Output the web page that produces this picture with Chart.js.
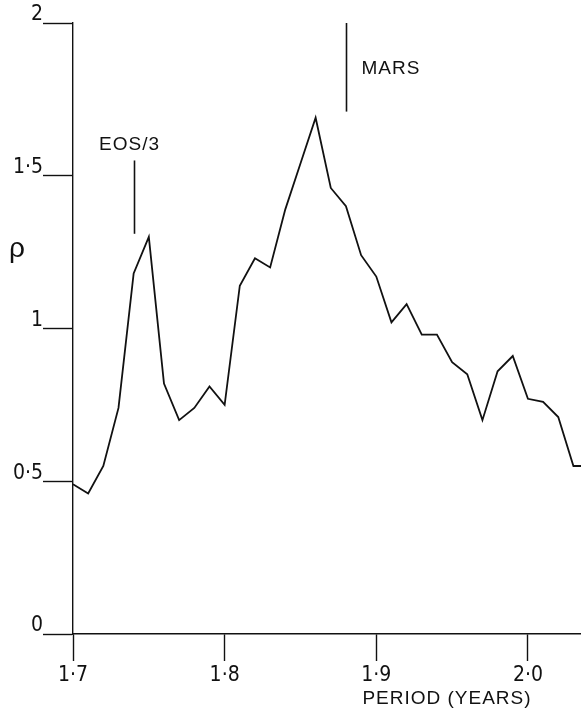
<!DOCTYPE html>
<html>
<head>
<meta charset="utf-8">
<script src="https://cdn.jsdelivr.net/npm/chart.js@4"></script>
<style>
  body { margin: 0; background: #fff; }
  #wrap { width: 581px; height: 711px; position: relative; }
</style>
</head>
<body>
<div id="wrap"><canvas id="rhoChart"></canvas></div>
<script>
// period (years) and rho
var periods = [1.70, 1.71, 1.72, 1.73, 1.74, 1.75, 1.76, 1.77, 1.78, 1.79,
               1.80, 1.81, 1.82, 1.83, 1.84, 1.85, 1.86, 1.87, 1.88, 1.89,
               1.90, 1.91, 1.92, 1.93, 1.94, 1.95, 1.96, 1.97, 1.98, 1.99,
               2.00, 2.01, 2.02, 2.03, 2.04];
var rho = [0.49, 0.46, 0.55, 0.74, 1.18, 1.30, 0.82, 0.70, 0.74, 0.81,
           0.75, 1.14, 1.23, 1.20, 1.39, 1.54, 1.69, 1.46, 1.40, 1.24,
           1.17, 1.02, 1.08, 0.98, 0.98, 0.89, 0.85, 0.70, 0.86, 0.91,
           0.77, 0.76, 0.71, 0.55, 0.55];

var xTicks = [1.7, 1.8, 1.9, 2.0];
var xTickLabels = ["1·7", "1·8", "1·9", "2·0"];
var yTicks = [0, 0.5, 1, 1.5, 2];
var yTickLabels = ["0", "0·5", "1", "1·5", "2"];

// marker lines above the peaks
var markerLabels = ["EOS/3", "MARS"];
var markerX = [1.74, 1.88];
var markerTop = [1.55, 2.0];
var markerBottom = [1.31, 1.71];

var tickFont = '"Liberation Sans Narrow", "DejaVu Sans Condensed", "Liberation Sans", sans-serif';
var textFont = '"Liberation Sans", "DejaVu Sans", sans-serif';

// vertical marker lines + free text (rho, x title)
var annotations = {
  id: "annotations",
  afterDraw: function (chart) {
    var ctx = chart.ctx;
    var xs = chart.scales.x;
    var ys = chart.scales.y;
    ctx.save();
    ctx.strokeStyle = "#111";
    ctx.fillStyle = "#111";
    ctx.lineWidth = 1.6;
    markerX.forEach(function (v, i) {
      var px = Math.round(xs.getPixelForValue(v)) + 0.5;
      var top = ys.getPixelForValue(markerTop[i]);
      var bot = ys.getPixelForValue(markerBottom[i]);
      ctx.beginPath();
      ctx.moveTo(px, top);
      ctx.lineTo(px, bot);
      ctx.stroke();

      ctx.font = "19px " + textFont;
      ctx.letterSpacing = "1px";
      ctx.textBaseline = "alphabetic";
      if (i === 0) {
        ctx.textAlign = "center";
        ctx.fillText(markerLabels[i], px - 5, top - 10);
      } else {
        ctx.textAlign = "left";
        ctx.fillText(markerLabels[i], px + 15, (top + bot) / 2 + 7);
      }
    });

    // axis symbol
    ctx.letterSpacing = "0px";
    ctx.font = "28px " + textFont;
    ctx.textAlign = "left";
    ctx.fillText("ρ", 9, 257);

    // x axis title
    ctx.font = "19px " + textFont;
    ctx.letterSpacing = "1px";
    ctx.textAlign = "center";
    ctx.fillText("PERIOD (YEARS)", 447, 704);
    ctx.restore();
  },
};

var ctx = document.getElementById("rhoChart").getContext("2d");
var rhoChart = new Chart(ctx, {
  type: "line",
  data: {
    datasets: [
      {
        data: periods.map(function (p, i) { return { x: p, y: rho[i] }; }),
        borderColor: "#111",
        borderWidth: 1.8,
        pointRadius: 0,
        tension: 0,
        fill: false,
      },
    ],
  },
  options: {
    responsive: true,
    maintainAspectRatio: false,
    animation: false,
    layout: { padding: { top: 23, right: 0, bottom: 0, left: 0 } },
    plugins: {
      legend: { display: false },
      tooltip: { enabled: false },
    },
    scales: {
      x: {
        type: "linear",
        min: 1.7,
        max: 2.035,
        afterBuildTicks: function (scale) {
          scale.ticks = xTicks.map(function (v) { return { value: v }; });
        },
        afterFit: function (scale) { scale.height = 77; },
        border: { display: true, color: "#111", width: 1.4 },
        grid: { drawOnChartArea: false, drawTicks: true, tickLength: 27, tickColor: "#111", tickWidth: 1.4 },
        ticks: {
          color: "#111",
          padding: 2,
          maxRotation: 0,
          font: { family: tickFont, size: 21 },
          callback: function (value, index) { return xTickLabels[index]; },
        },
      },
      y: {
        min: 0,
        max: 2,
        afterBuildTicks: function (scale) {
          scale.ticks = yTicks.map(function (v) { return { value: v }; });
        },
        afterFit: function (scale) { scale.width = 73; },
        border: { display: true, color: "#111", width: 1.4 },
        grid: { drawOnChartArea: false, drawTicks: true, tickLength: 30, tickColor: "#111", tickWidth: 1.4 },
        ticks: {
          color: "#111",
          padding: 0,
          labelOffset: -8,
          font: { family: tickFont, size: 21 },
          callback: function (value, index) { return yTickLabels[index]; },
        },
      },
    },
  },
  plugins: [annotations],
});
</script>
</body>
</html>
